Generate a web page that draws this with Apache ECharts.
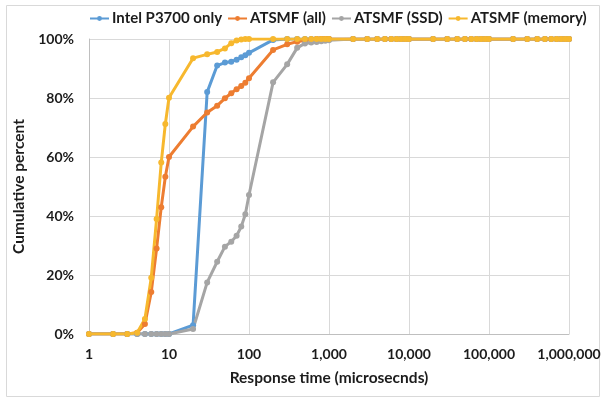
<!DOCTYPE html>
<html>
<head>
<meta charset="utf-8">
<script src="https://cdn.jsdelivr.net/npm/echarts@6/dist/echarts.min.js"></script>
<style>
  html, body { margin: 0; padding: 0; background: #fff; }
  #chart { width: 604px; height: 400px; }
</style>
</head>
<body>
<div id="chart"></div>
<script>
// Response-time buckets (microseconds): 1..9 per decade, up to 1,000,000
const responseTimes = [
  1, 2, 3, 4, 5, 6, 7, 8, 9,
  10, 20, 30, 40, 50, 60, 70, 80, 90,
  100, 200, 300, 400, 500, 600, 700, 800, 900,
  1000, 2000, 3000, 4000, 5000, 6000, 7000, 8000, 9000,
  10000, 20000, 30000, 40000, 50000, 60000, 70000, 80000, 90000,
  100000, 200000, 300000, 400000, 500000, 600000, 700000, 800000, 900000,
  1000000
];

const seriesNames = ['Intel P3700 only', 'ATSMF (all)', 'ATSMF (SSD)', 'ATSMF (memory)'];

// Cumulative percent for each bucket
const intelP3700 = [
  0, 0, 0, 0, 0, 0, 0, 0, 0,
  0, 3, 82, 91, 92, 92.3, 93, 93.8, 94.5,
  95.3, 99.7, 100, 100, 100, 100, 100, 100, 100,
  100, 100, 100, 100, 100, 100, 100, 100, 100,
  100, 100, 100, 100, 100, 100, 100, 100, 100,
  100, 100, 100, 100, 100, 100, 100, 100, 100,
  100
];
const atsmfAll = [
  0, 0, 0, 0.4, 3.4, 14.2, 29, 43, 53.3,
  60, 70.3, 75.1, 77.4, 79.9, 81.6, 83, 84.1, 85.2,
  86.7, 96.3, 98.2, 99.1, 99.6, 99.8, 100, 100, 100,
  100, 100, 100, 100, 100, 100, 100, 100, 100,
  100, 100, 100, 100, 100, 100, 100, 100, 100,
  100, 100, 100, 100, 100, 100, 100, 100, 100,
  100
];
const atsmfSsd = [
  0, 0, 0, 0, 0, 0, 0, 0, 0,
  0, 1.7, 17.5, 24.5, 29.6, 31.3, 33.3, 36.4, 40.6,
  47.1, 85.3, 91.4, 97, 98.5, 98.8, 99.0, 99.2, 99.4,
  99.6, 100, 100, 100, 100, 100, 100, 100, 100,
  100, 100, 100, 100, 100, 100, 100, 100, 100,
  100, 100, 100, 100, 100, 100, 100, 100, 100,
  100
];
const atsmfMemory = [
  0, 0, 0, 0.4, 5.1, 19.1, 39, 58.1, 71.2,
  80.1, 93.5, 94.8, 95.6, 96.8, 98.6, 99.5, 99.8, 100,
  100, 100, 100, 100, 100, 100, 100, 100, 100,
  100, 100, 100, 100, 100, 100, 100, 100, 100,
  100, 100, 100, 100, 100, 100, 100, 100, 100,
  100, 100, 100, 100, 100, 100, 100, 100, 100,
  100
];

const yTicks = [0, 20, 40, 60, 80, 100];

const colors = ['#5B9BD5', '#ED7D31', '#A5A5A5', '#F7B82E'];
const FONT = 'Lato, "Open Sans", sans-serif';
const TEXT = '#1c1c1c';

function pairs(values) {
  return responseTimes.map((t, i) => [t, values[i]]);
}

function lineSeries(name, values, color) {
  return {
    name: name,
    type: 'line',
    data: pairs(values),
    symbol: 'circle',
    symbolSize: 6,
    showSymbol: true,
    lineStyle: { width: 3, color: color },
    itemStyle: { color: color },
    emphasis: { disabled: true },
    animation: false
  };
}

const chart = echarts.init(document.getElementById('chart'), null, { renderer: 'canvas' });

chart.setOption({
  animation: false,
  color: colors,
  graphic: [{
    type: 'rect',
    shape: { x: 6.5, y: 5.5, width: 593, height: 391 },
    style: { fill: 'none', stroke: '#D9D9D9', lineWidth: 1 },
    silent: true,
    z: -10
  }],
  legend: {
    top: 11,
    left: 89,
    width: 515,
    padding: 0,
    itemWidth: 19,
    itemHeight: 6,
    itemGap: 5,
    data: seriesNames,
    textStyle: { fontFamily: FONT, fontSize: 15, fontWeight: 'bold', color: TEXT, padding: [0, 0, 0, -2] }
  },
  grid: { left: 89, right: 35, top: 39, bottom: 66 },
  xAxis: {
    type: 'log',
    logBase: 10,
    min: 1,
    max: 1000000,
    name: 'Response time (microsecnds)',
    nameLocation: 'middle',
    nameGap: 36,
    nameTextStyle: { fontFamily: FONT, fontSize: 15.5, fontWeight: 'bold', color: TEXT },
    axisLine: { show: true, lineStyle: { color: '#BFBFBF', width: 1 } },
    axisTick: { show: false },
    minorTick: { show: false },
    splitLine: { show: true, lineStyle: { color: '#D9D9D9', width: 1 } },
    axisLabel: {
      margin: 13,
      fontFamily: FONT,
      fontSize: 14,
      fontWeight: 'bold',
      color: TEXT,
      formatter: v => Math.round(v).toLocaleString('en-US')
    }
  },
  yAxis: {
    type: 'value',
    min: yTicks[0],
    max: yTicks[yTicks.length - 1],
    interval: 20,
    name: 'Cumulative percent',
    nameLocation: 'middle',
    nameGap: 58,
    nameTextStyle: { fontFamily: FONT, fontSize: 15.5, fontWeight: 'bold', color: TEXT },
    axisLine: { show: true, lineStyle: { color: '#BFBFBF', width: 1 } },
    axisTick: { show: false },
    splitLine: { show: true, lineStyle: { color: '#D9D9D9', width: 1 } },
    axisLabel: {
      margin: 15,
      fontFamily: FONT,
      fontSize: 14,
      fontWeight: 'bold',
      color: TEXT,
      formatter: '{value}%'
    }
  },
  series: [
    lineSeries(seriesNames[0], intelP3700, colors[0]),
    lineSeries(seriesNames[1], atsmfAll, colors[1]),
    lineSeries(seriesNames[2], atsmfSsd, colors[2]),
    lineSeries(seriesNames[3], atsmfMemory, colors[3])
  ]
});
</script>
</body>
</html>
